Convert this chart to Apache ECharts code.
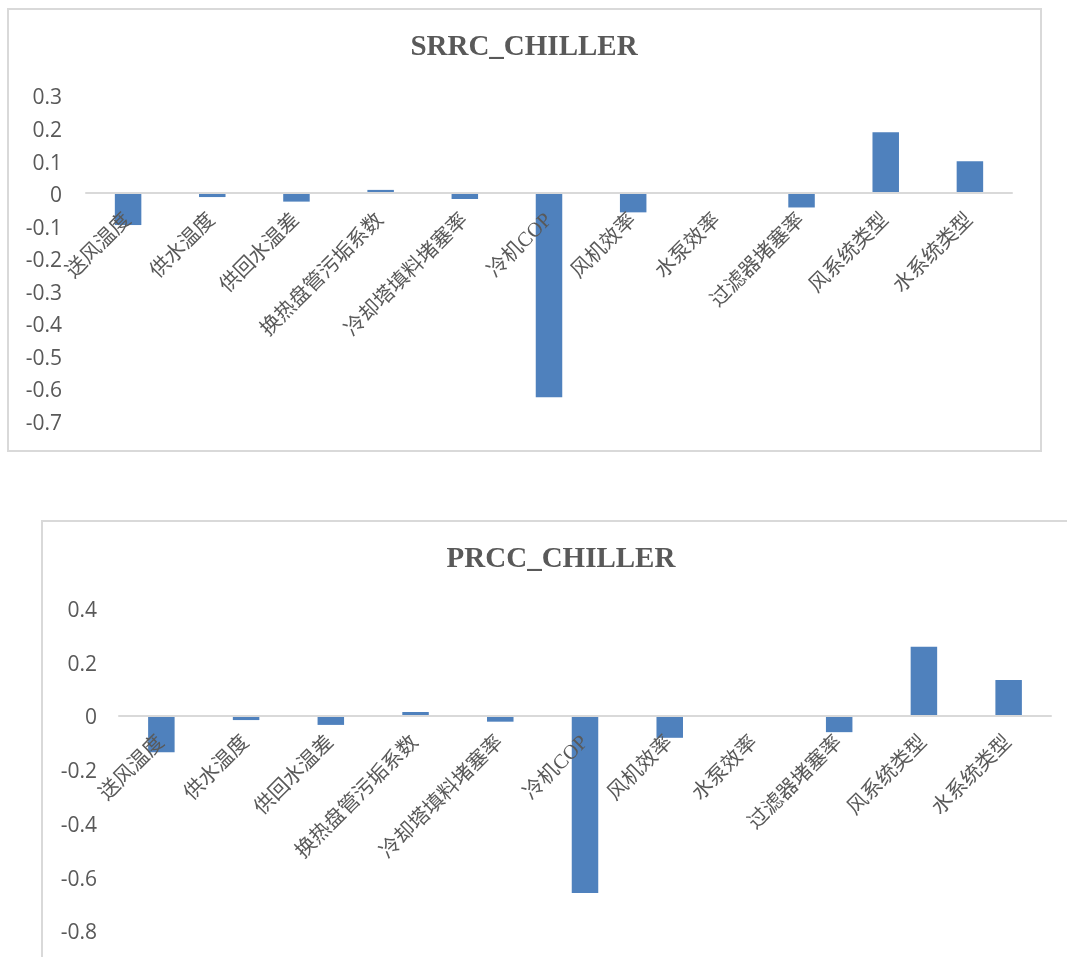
<!DOCTYPE html>
<html>
<head>
<meta charset="utf-8">
<script src="https://cdn.jsdelivr.net/npm/echarts@6/dist/echarts.min.js"></script>
<style>
  html, body { margin: 0; padding: 0; background: #ffffff; }
  #chart { width: 1067px; height: 957px; }
</style>
</head>
<body>
<div id="chart"></div>
<script>
// Input parameters (sensitivity analysis, chiller plant)
const categories = ['送风温度', '供水温度', '供回水温差', '换热盘管污垢系数', '冷却塔填料堵塞率',
  '冷机COP', '风机效率', '水泵效率', '过滤器堵塞率', '风系统类型', '水系统类型'];

// Standardized rank regression coefficients
const srrcValues = [-0.098, -0.012, -0.026, 0.010, -0.018, -0.627, -0.059, 0, -0.044, 0.187, 0.098];
// Partial rank correlation coefficients
const prccValues = [-0.137, -0.017, -0.035, 0.013, -0.023, -0.660, -0.083, 0, -0.062, 0.256, 0.132];

const srrcTitle = 'SRRC_CHILLER';
const prccTitle = 'PRCC_CHILLER';

// Value-axis ranges and tick steps: [min, max, interval]
const srrcAxis = [-0.7, 0.3, 0.1];
const prccAxis = [-0.8, 0.4, 0.2];

const TEXT = '#595959';
const BORDER = '#d9d9d9';
const BAR = '#4F81BD';

// Tick text, wrapped in a rich style that sets it slightly lower on its tick
function tickLabel(v) {
  return '{t|' + String(Math.round(v * 10) / 10) + '}';
}

function xAxisFor(gridIndex, offset) {
  return {
    type: 'category',
    gridIndex: gridIndex,
    data: categories,
    offset: offset,
    z: 3,
    axisLine: { show: true, onZero: false, lineStyle: { color: BORDER, width: 2 } },
    axisTick: { show: false },
    axisLabel: {
      interval: 0,
      rotate: 45,
      margin: 24,
      color: TEXT,
      fontSize: 20.5,
      fontFamily: '"Liberation Serif", "Noto Sans CJK SC", serif'
    },
    splitLine: { show: false }
  };
}

function yAxisFor(gridIndex, range, margin) {
  return {
    type: 'value',
    gridIndex: gridIndex,
    min: range[0],
    max: range[1],
    interval: range[2],
    axisLine: { show: false },
    axisTick: { show: false },
    splitLine: { show: false },
    axisLabel: {
      margin: margin,
      formatter: tickLabel,
      rich: {
        t: {
          color: TEXT,
          fontSize: 21,
          fontFamily: '"Open Sans", sans-serif',
          padding: [6, 0, 0, 0]
        }
      }
    }
  };
}

const chart = echarts.init(document.getElementById('chart'), null, { renderer: 'canvas' });

const grids = [
  { left: 86, right: 55, top: 95.5, height: 325.5, outerBoundsMode: 'none', containLabel: false },
  { left: 119, right: 16, top: 608, height: 322.5, outerBoundsMode: 'none', containLabel: false }
];

chart.setOption({
  animation: false,
  backgroundColor: '#ffffff',
  title: [
    {
      text: srrcTitle,
      left: 519, top: 28, textAlign: 'center',
      textStyle: { color: TEXT, fontSize: 29, fontWeight: 'bold', fontFamily: '"Liberation Serif", serif' }
    },
    {
      text: prccTitle,
      left: 556, top: 540, textAlign: 'center',
      textStyle: { color: TEXT, fontSize: 29, fontWeight: 'bold', fontFamily: '"Liberation Serif", serif' }
    }
  ],
  graphic: [
    {
      type: 'rect', z: -1, silent: true,
      shape: { x: 8, y: 9, width: 1033, height: 442 },
      style: { fill: 'none', stroke: BORDER, lineWidth: 2 }
    },
    {
      type: 'rect', z: -1, silent: true,
      shape: { x: 42, y: 521, width: 1100, height: 500 },
      style: { fill: 'none', stroke: BORDER, lineWidth: 2 }
    }
  ],
  grid: grids,
  xAxis: [xAxisFor(0, 0), xAxisFor(1, 0)],
  yAxis: [yAxisFor(0, srrcAxis, 24), yAxisFor(1, prccAxis, 22)],
  series: [
    {
      name: srrcTitle, type: 'bar', xAxisIndex: 0, yAxisIndex: 0,
      data: srrcValues, barWidth: 26.5,
      itemStyle: { color: BAR }
    },
    {
      name: prccTitle, type: 'bar', xAxisIndex: 1, yAxisIndex: 1,
      data: prccValues, barWidth: 26.5,
      itemStyle: { color: BAR }
    }
  ]
});

// Move each category axis (line and labels) up to the value-axis zero
const offsets = [srrcAxis, prccAxis].map(function (range, i) {
  const zeroY = chart.convertToPixel({ yAxisIndex: i }, 0);
  const bottomY = chart.convertToPixel({ yAxisIndex: i }, range[0]);
  return zeroY - bottomY;
});
chart.setOption({
  xAxis: [{ offset: offsets[0] }, { offset: offsets[1] }]
});
</script>
</body>
</html>
